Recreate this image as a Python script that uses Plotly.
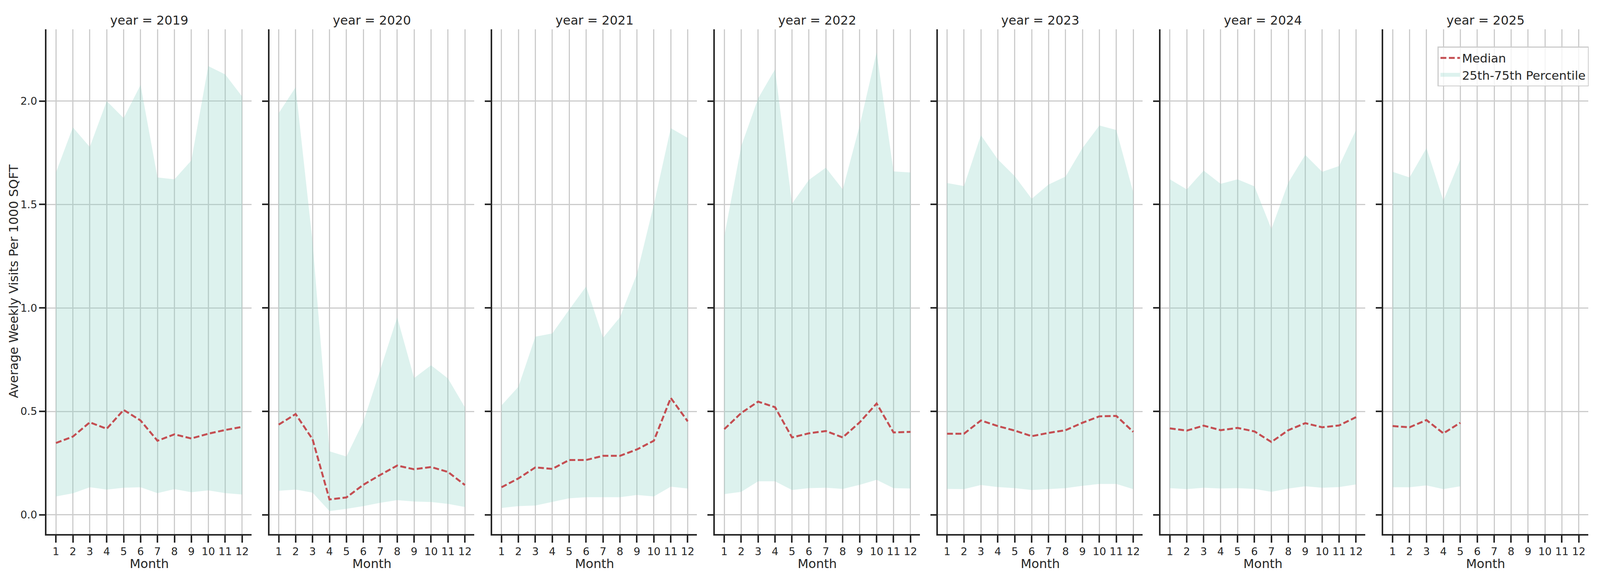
import plotly.graph_objects as go

# monthly stats of average weekly visits per 1000 sqft, one facet per year
months = [1, 2, 3, 4, 5, 6, 7, 8, 9, 10, 11, 12]
years = [2019, 2020, 2021, 2022, 2023, 2024, 2025]

median_2019 = [0.347, 0.378, 0.447, 0.416, 0.507, 0.456, 0.358, 0.389, 0.369, 0.392, 0.410, 0.425]
p25_2019 = [0.089, 0.104, 0.133, 0.122, 0.131, 0.133, 0.105, 0.124, 0.109, 0.118, 0.105, 0.098]
p75_2019 = [1.655, 1.873, 1.778, 2.000, 1.918, 2.078, 1.631, 1.622, 1.713, 2.169, 2.129, 2.022]

median_2020 = [0.436, 0.487, 0.365, 0.074, 0.084, 0.145, 0.193, 0.238, 0.220, 0.231, 0.207, 0.144]
p25_2020 = [0.116, 0.122, 0.107, 0.018, 0.029, 0.042, 0.058, 0.071, 0.064, 0.062, 0.053, 0.038]
p75_2020 = [1.942, 2.067, 1.319, 0.307, 0.282, 0.450, 0.701, 0.955, 0.661, 0.723, 0.659, 0.520]

median_2021 = [0.133, 0.176, 0.229, 0.222, 0.265, 0.265, 0.285, 0.285, 0.316, 0.358, 0.565, 0.452]
p25_2021 = [0.033, 0.042, 0.045, 0.062, 0.080, 0.085, 0.085, 0.085, 0.096, 0.089, 0.136, 0.127]
p75_2021 = [0.529, 0.619, 0.861, 0.877, 0.992, 1.104, 0.856, 0.955, 1.164, 1.500, 1.869, 1.822]

median_2022 = [0.414, 0.492, 0.547, 0.520, 0.374, 0.394, 0.405, 0.374, 0.447, 0.538, 0.398, 0.401]
p25_2022 = [0.100, 0.111, 0.162, 0.162, 0.120, 0.129, 0.131, 0.125, 0.145, 0.169, 0.129, 0.127]
p75_2022 = [1.346, 1.782, 2.013, 2.154, 1.504, 1.619, 1.678, 1.573, 1.882, 2.236, 1.660, 1.655]

median_2023 = [0.392, 0.392, 0.456, 0.429, 0.407, 0.380, 0.396, 0.409, 0.445, 0.476, 0.478, 0.401]
p25_2023 = [0.125, 0.124, 0.144, 0.134, 0.129, 0.120, 0.124, 0.129, 0.140, 0.149, 0.149, 0.124]
p75_2023 = [1.604, 1.589, 1.835, 1.718, 1.637, 1.528, 1.597, 1.635, 1.773, 1.882, 1.860, 1.559]

median_2024 = [0.418, 0.407, 0.431, 0.409, 0.420, 0.403, 0.352, 0.409, 0.443, 0.423, 0.432, 0.472]
p25_2024 = [0.129, 0.124, 0.131, 0.127, 0.129, 0.125, 0.111, 0.127, 0.138, 0.131, 0.134, 0.147]
p75_2024 = [1.622, 1.573, 1.664, 1.600, 1.622, 1.588, 1.382, 1.606, 1.740, 1.658, 1.686, 1.860]

median_2025 = [0.429, 0.423, 0.458, 0.394, 0.445]
p25_2025 = [0.133, 0.133, 0.142, 0.124, 0.138]
p75_2025 = [1.658, 1.631, 1.773, 1.519, 1.718]

y_ticks = [0.0, 0.5, 1.0, 1.5, 2.0]

medians = [median_2019, median_2020, median_2021, median_2022, median_2023, median_2024, median_2025]
lows = [p25_2019, p25_2020, p25_2021, p25_2022, p25_2023, p25_2024, p25_2025]
highs = [p75_2019, p75_2020, p75_2021, p75_2022, p75_2023, p75_2024, p75_2025]

# layout measured on the 5250x1500 reference, used as fractions of the page
W, H = 5250, 1500
RED = '#c44e52'
FILL = 'rgba(141,211,199,0.3)'
INK = '#262626'
FONT = 'DejaVu Sans'

fig = go.Figure()
for i, year in enumerate(years):
    sfx = '' if i == 0 else str(i + 1)
    x = months[:len(medians[i])]
    fig.add_trace(go.Scatter(x=x, y=lows[i], mode='lines', line=dict(width=0),
                             showlegend=False, hoverinfo='skip', xaxis='x' + sfx, yaxis='y' + sfx))
    fig.add_trace(go.Scatter(x=x, y=highs[i], mode='lines', line=dict(width=0),
                             fill='tonexty', fillcolor=FILL, name='25th-75th Percentile',
                             showlegend=False, xaxis='x' + sfx, yaxis='y' + sfx))
    fig.add_trace(go.Scatter(x=x, y=medians[i], mode='lines',
                             line=dict(color=RED, width=5, dash='15px,6.5px'), name='Median',
                             showlegend=(i == 0), xaxis='x' + sfx, yaxis='y' + sfx))

# legend entry for the band: a thick line sample reads like matplotlib's patch
fig.add_trace(go.Scatter(x=[None], y=[None], mode='lines', line=dict(color=FILL, width=20),
                         name='25th-75th Percentile', showlegend=True, hoverinfo='skip'))

axis_common = dict(showline=True, linecolor=INK, linewidth=3.75, mirror=False,
                   ticks='outside', tickwidth=3.75, tickcolor=INK,
                   showgrid=True, gridcolor='#cccccc', gridwidth=3, zeroline=False,
                   tickfont=dict(family=FONT, size=27, color=INK))

layout = {}
annotations = []
for i, year in enumerate(years):
    sfx = '' if i == 0 else str(i + 1)
    left = (153 + i * 731) / W
    right = (825 + i * 731) / W
    layout['xaxis' + sfx] = dict(axis_common, domain=[left, right], anchor='y' + sfx,
                                 range=[0.45, 12.55], tickvals=months, ticklen=18)
    layout['yaxis' + sfx] = dict(axis_common, domain=[1 - 1367 / H, 1 - 75 / H], anchor='x' + sfx,
                                 range=[-0.093, 2.347], tickvals=y_ticks, tickformat='.1f',
                                 ticklen=15, showticklabels=(i == 0))
    annotations.append(dict(text=f'year = {year}', x=(left + right) / 2, y=1 - 52 / H,
                            xref='paper', yref='paper', showarrow=False, xanchor='center',
                            yanchor='middle', font=dict(family=FONT, size=32, color=INK)))
    annotations.append(dict(text='Month', x=(left + right) / 2, y=1 - 1443 / H,
                            xref='paper', yref='paper', showarrow=False, xanchor='center',
                            yanchor='middle', font=dict(family=FONT, size=32, color=INK)))

annotations.append(dict(text='Average Weekly Visits Per 1000 SQFT', x=45 / W, y=1 - 720 / H,
                        xref='paper', yref='paper', showarrow=False, textangle=-90,
                        xanchor='center', yanchor='middle',
                        font=dict(family=FONT, size=32, color=INK)))

fig.update_layout(
    autosize=True, height=H,
    margin=dict(l=0, r=0, t=0, b=0),
    paper_bgcolor='white', plot_bgcolor='white',
    font=dict(family=FONT, color=INK),
    annotations=annotations,
    legend=dict(x=5213 / W, y=1 - 119 / H, xanchor='right', yanchor='top', traceorder='normal',
                bgcolor='rgba(255,255,255,0.8)', bordercolor='#cccccc', borderwidth=2.5,
                font=dict(family=FONT, size=31, color=INK), itemwidth=50),
    **layout,
)

# drop the default body margin so the figure fills the window
fix_margin = """
document.body.style.margin = '0';
Plotly.Plots.resize(document.getElementById('{plot_id}'));
"""
fig.write_html("out.html", post_script=fix_margin, config={'displayModeBar': False})
